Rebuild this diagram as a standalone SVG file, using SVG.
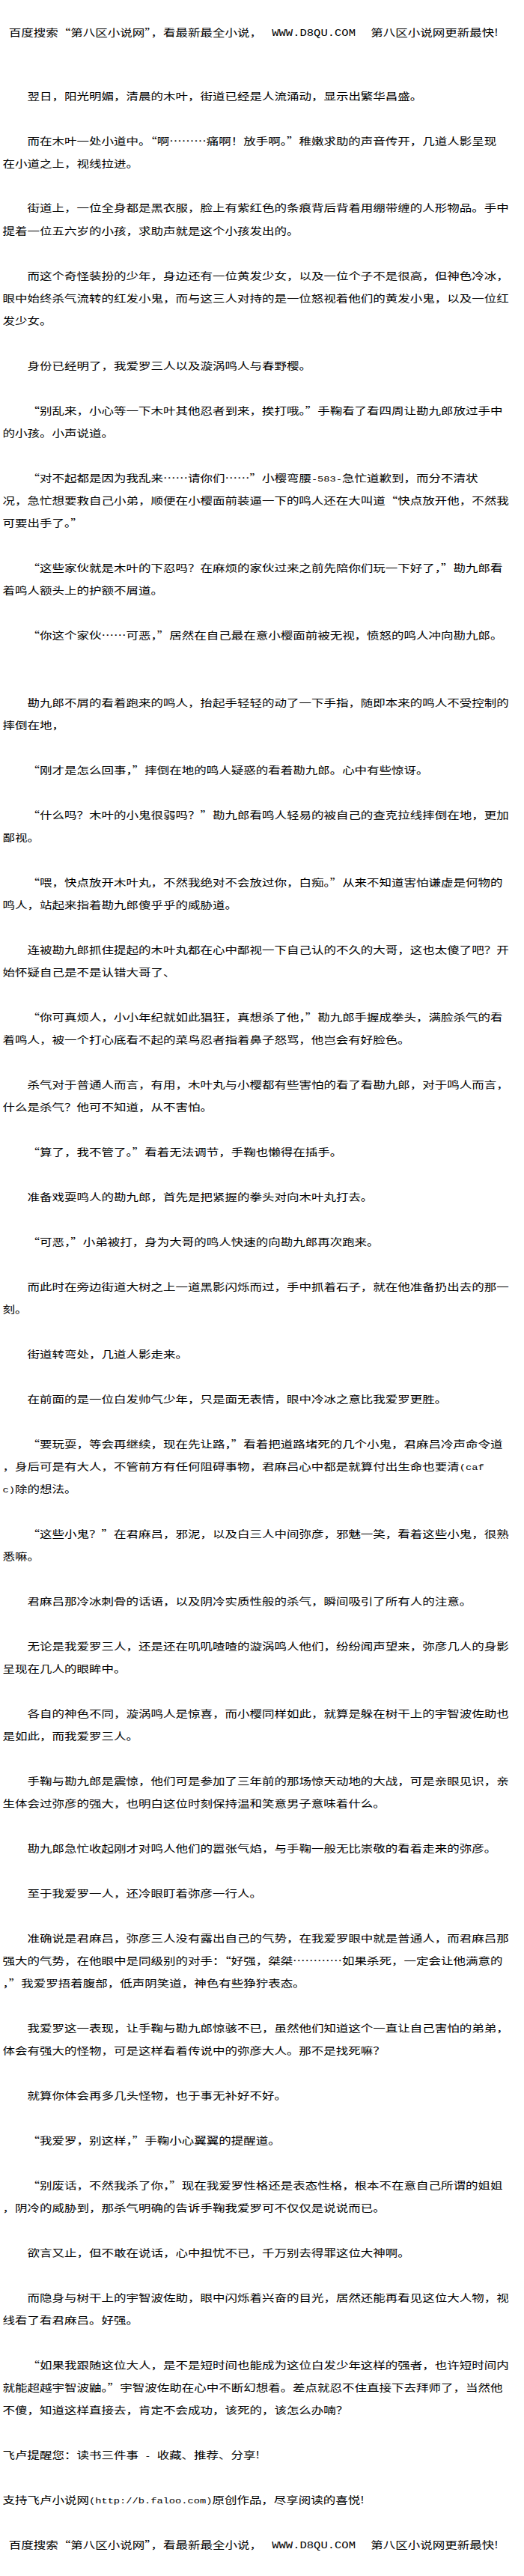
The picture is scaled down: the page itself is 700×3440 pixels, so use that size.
<svg xmlns="http://www.w3.org/2000/svg" width="700" height="3440" viewBox="0 0 700 3440">
<style>
.t{font-family:"Noto Sans CJK SC","Noto Sans",sans-serif;font-size:13px;fill:#000}
.m{font-family:"Liberation Mono",monospace;font-size:10.8px}
.w{font-family:"Liberation Mono",monospace;font-size:13px}
</style>
<rect width="700" height="3440" fill="#fff"/>
<g transform="scale(1.27,1)" class="t">
<g id="header-top"><text y="48"><tspan x="9.3">百度搜索“第八区小说网”，看最新最全小说，</tspan><tspan x="286" class="w" textLength="88" lengthAdjust="spacingAndGlyphs">WWW.D8QU.COM</tspan><tspan x="390">第八区小说网更新最快!</tspan></text></g>
<g id="p1"><text x="28.8" y="133">翌日，阳光明媚，清晨的木叶，街道已经是人流涌动，显示出繁华昌盛。</text></g>
<g id="p2"><text x="28.8" y="193">而在木叶一处小道中。“啊………痛啊！放手啊。”稚嫩求助的声音传开，几道人影呈现</text><text x="2.8" y="223">在小道之上，视线拉进。</text></g>
<g id="p3"><text x="28.8" y="282">街道上，一位全身都是黑衣服，脸上有紫红色的条痕背后背着用绷带缠的人形物品。手中</text><text x="2.8" y="313">提着一位五六岁的小孩，求助声就是这个小孩发出的。</text></g>
<g id="p4"><text x="28.8" y="373">而这个奇怪装扮的少年，身边还有一位黄发少女，以及一位个子不是很高，但神色冷冰，</text><text x="2.8" y="403">眼中始终杀气流转的红发小鬼，而与这三人对持的是一位怒视着他们的黄发小鬼，以及一位红</text><text x="2.8" y="433">发少女。</text></g>
<g id="p5"><text x="28.8" y="493">身份已经明了，我爱罗三人以及漩涡鸣人与春野樱。</text></g>
<g id="p6"><text x="28.8" y="553">“别乱来，小心等一下木叶其他忍者到来，挨打哦。”手鞠看了看四周让勘九郎放过手中</text><text x="2.8" y="583">的小孩。小声说道。</text></g>
<g id="p7"><text x="28.8" y="643">“对不起都是因为我乱来……请你们……”小樱弯腰<tspan class="m">-583-</tspan>急忙道歉到，而分不清状</text><text x="2.8" y="673">况，急忙想要救自己小弟，顺便在小樱面前装逼一下的鸣人还在大叫道“快点放开他，不然我</text><text x="2.8" y="703">可要出手了。”</text></g>
<g id="p8"><text x="28.8" y="763">“这些家伙就是木叶的下忍吗？在麻烦的家伙过来之前先陪你们玩一下好了，”勘九郎看</text><text x="2.8" y="793">着鸣人额头上的护额不屑道。</text></g>
<g id="p9"><text x="28.8" y="853">“你这个家伙……可恶，”居然在自己最在意小樱面前被无视，愤怒的鸣人冲向勘九郎。</text></g>
<g id="p10"><text x="28.8" y="943">勘九郎不屑的看着跑来的鸣人，抬起手轻轻的动了一下手指，随即本来的鸣人不受控制的</text><text x="2.8" y="973">摔倒在地，</text></g>
<g id="p11"><text x="28.8" y="1033">“刚才是怎么回事，”摔倒在地的鸣人疑惑的看着勘九郎。心中有些惊讶。</text></g>
<g id="p12"><text x="28.8" y="1093">“什么吗？木叶的小鬼很弱吗？”勘九郎看鸣人轻易的被自己的查克拉线摔倒在地，更加</text><text x="2.8" y="1123">鄙视。</text></g>
<g id="p13"><text x="28.8" y="1183">“喂，快点放开木叶丸，不然我绝对不会放过你，白痴。”从来不知道害怕谦虚是何物的</text><text x="2.8" y="1213">鸣人，站起来指着勘九郎傻乎乎的威胁道。</text></g>
<g id="p14"><text x="28.8" y="1273">连被勘九郎抓住提起的木叶丸都在心中鄙视一下自己认的不久的大哥，这也太傻了吧？开</text><text x="2.8" y="1303">始怀疑自己是不是认错大哥了、</text></g>
<g id="p15"><text x="28.8" y="1363">“你可真烦人，小小年纪就如此猖狂，真想杀了他，”勘九郎手握成拳头，满脸杀气的看</text><text x="2.8" y="1393">着鸣人，被一个打心底看不起的菜鸟忍者指着鼻子怒骂，他岂会有好脸色。</text></g>
<g id="p16"><text x="28.8" y="1453">杀气对于普通人而言，有用，木叶丸与小樱都有些害怕的看了看勘九郎，对于鸣人而言，</text><text x="2.8" y="1483">什么是杀气？他可不知道，从不害怕。</text></g>
<g id="p17"><text x="28.8" y="1543">“算了，我不管了。”看着无法调节，手鞠也懒得在插手。</text></g>
<g id="p18"><text x="28.8" y="1603">准备戏耍鸣人的勘九郎，首先是把紧握的拳头对向木叶丸打去。</text></g>
<g id="p19"><text x="28.8" y="1663">“可恶，”小弟被打，身为大哥的鸣人快速的向勘九郎再次跑来。</text></g>
<g id="p20"><text x="28.8" y="1723">而此时在旁边街道大树之上一道黑影闪烁而过，手中抓着石子，就在他准备扔出去的那一</text><text x="2.8" y="1753">刻。</text></g>
<g id="p21"><text x="28.8" y="1813">街道转弯处，几道人影走来。</text></g>
<g id="p22"><text x="28.8" y="1873">在前面的是一位白发帅气少年，只是面无表情，眼中冷冰之意比我爱罗更胜。</text></g>
<g id="p23"><text x="28.8" y="1933">“要玩耍，等会再继续，现在先让路，”看着把道路堵死的几个小鬼，君麻吕冷声命令道</text><text x="2.8" y="1963">，身后可是有大人，不管前方有任何阻碍事物，君麻吕心中都是就算付出生命也要清<tspan class="m">(caf</tspan></text><text x="2.8" y="1993"><tspan class="m">c)</tspan>除的想法。</text></g>
<g id="p24"><text x="28.8" y="2053">“这些小鬼？”在君麻吕，邪泥，以及白三人中间弥彦，邪魅一笑，看着这些小鬼，很熟</text><text x="2.8" y="2083">悉嘛。</text></g>
<g id="p25"><text x="28.8" y="2143">君麻吕那冷冰刺骨的话语，以及阴冷实质性般的杀气，瞬间吸引了所有人的注意。</text></g>
<g id="p26"><text x="28.8" y="2203">无论是我爱罗三人，还是还在叽叽喳喳的漩涡鸣人他们，纷纷闻声望来，弥彦几人的身影</text><text x="2.8" y="2233">呈现在几人的眼眸中。</text></g>
<g id="p27"><text x="28.8" y="2293">各自的神色不同，漩涡鸣人是惊喜，而小樱同样如此，就算是躲在树干上的宇智波佐助也</text><text x="2.8" y="2323">是如此，而我爱罗三人。</text></g>
<g id="p28"><text x="28.8" y="2383">手鞠与勘九郎是震惊，他们可是参加了三年前的那场惊天动地的大战，可是亲眼见识，亲</text><text x="2.8" y="2413">生体会过弥彦的强大，也明白这位时刻保持温和笑意男子意味着什么。</text></g>
<g id="p29"><text x="28.8" y="2473">勘九郎急忙收起刚才对鸣人他们的嚣张气焰，与手鞠一般无比崇敬的看着走来的弥彦。</text></g>
<g id="p30"><text x="28.8" y="2533">至于我爱罗一人，还冷眼盯着弥彦一行人。</text></g>
<g id="p31"><text x="28.8" y="2593">准确说是君麻吕，弥彦三人没有露出自己的气势，在我爱罗眼中就是普通人，而君麻吕那</text><text x="2.8" y="2623">强大的气势，在他眼中是同级别的对手：“好强，桀桀…………如果杀死，一定会让他满意的</text><text x="2.8" y="2653">，”我爱罗捂着腹部，低声阴笑道，神色有些狰狞表态。</text></g>
<g id="p32"><text x="28.8" y="2713">我爱罗这一表现，让手鞠与勘九郎惊骇不已，虽然他们知道这个一直让自己害怕的弟弟，</text><text x="2.8" y="2743">体会有强大的怪物，可是这样看着传说中的弥彦大人。那不是找死嘛？</text></g>
<g id="p33"><text x="28.8" y="2803">就算你体会再多几头怪物，也于事无补好不好。</text></g>
<g id="p34"><text x="28.8" y="2863">“我爱罗，别这样，”手鞠小心翼翼的提醒道。</text></g>
<g id="p35"><text x="28.8" y="2923">“别废话，不然我杀了你，”现在我爱罗性格还是表态性格，根本不在意自己所谓的姐姐</text><text x="2.8" y="2953">，阴冷的威胁到，那杀气明确的告诉手鞠我爱罗可不仅仅是说说而已。</text></g>
<g id="p36"><text x="28.8" y="3013">欲言又止，但不敢在说话，心中担忧不已，千万别去得罪这位大神啊。</text></g>
<g id="p37"><text x="28.8" y="3073">而隐身与树干上的宇智波佐助，眼中闪烁着兴奋的目光，居然还能再看见这位大人物，视</text><text x="2.8" y="3103">线看了看君麻吕。好强。</text></g>
<g id="p38"><text x="28.8" y="3163">“如果我跟随这位大人，是不是短时间也能成为这位白发少年这样的强者，也许短时间内</text><text x="2.8" y="3193">就能超越宇智波鼬。”宇智波佐助在心中不断幻想着。差点就忍不住直接下去拜师了，当然他</text><text x="2.8" y="3223">不傻，知道这样直接去，肯定不会成功，该死的，该怎么办喃？</text></g>
<g id="p39"><text x="2.8" y="3283">飞卢提醒您：读书三件事<tspan class="m"> - </tspan>收藏、推荐、分享!</text></g>
<g id="p40"><text x="2.8" y="3343">支持飞卢小说网<tspan class="m">(http://b.faloo.com)</tspan>原创作品，尽享阅读的喜悦!</text></g>
<g id="header-bottom"><text y="3403"><tspan x="9.3">百度搜索“第八区小说网”，看最新最全小说，</tspan><tspan x="286" class="w" textLength="88" lengthAdjust="spacingAndGlyphs">WWW.D8QU.COM</tspan><tspan x="390">第八区小说网更新最快!</tspan></text></g>
</g>
</svg>
